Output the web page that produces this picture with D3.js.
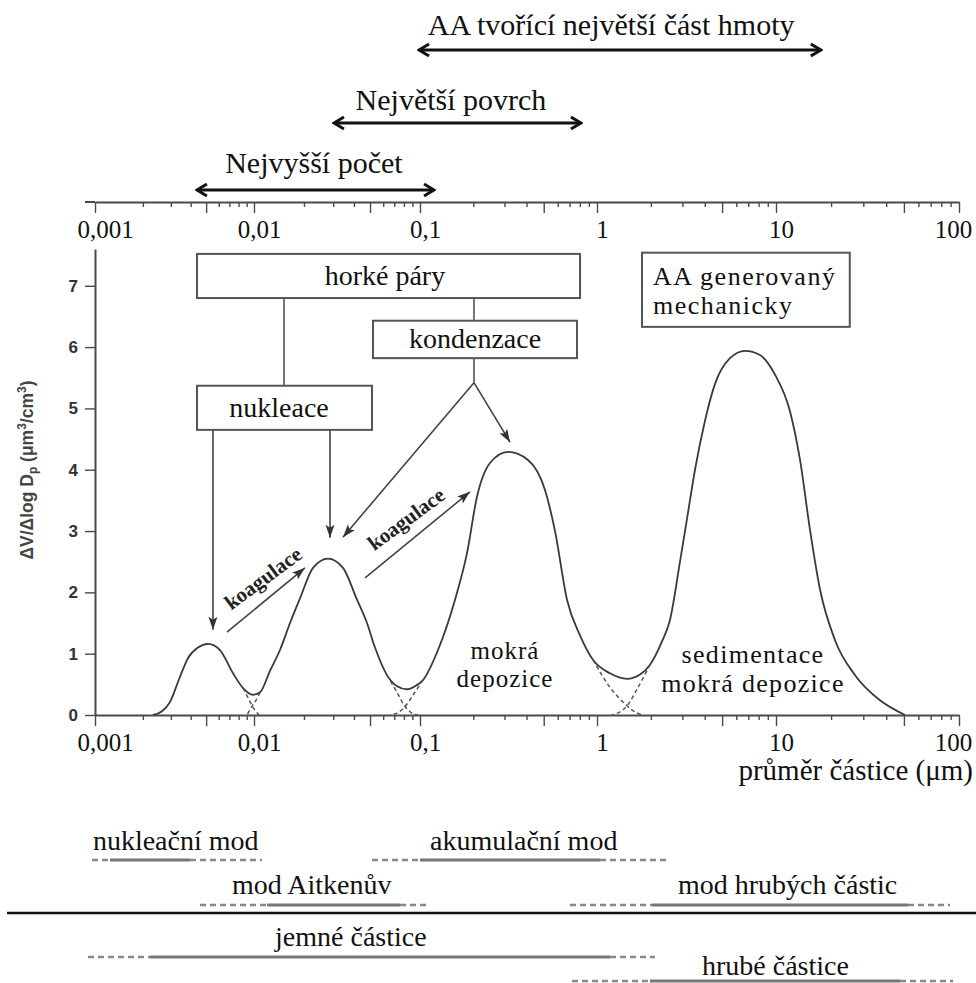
<!DOCTYPE html>
<html>
<head>
<meta charset="utf-8">
<script src="https://cdn.jsdelivr.net/npm/d3@7"></script>
<style>
  html, body { margin: 0; padding: 0; background: #fff; }
  svg { display: block; }
</style>
</head>
<body>
<svg id="chart" width="976" height="983"></svg>
<script>
// ---- Volume size distribution ΔV/Δlog Dp along the upper envelope ----
const diameters = [0.00232, 0.00264, 0.00296, 0.00342, 0.00385, 0.00444, 0.00514, 0.00611, 0.00738, 0.00853,
  0.00986, 0.01087, 0.01248, 0.01434, 0.01648, 0.01892, 0.02267, 0.02791, 0.03437, 0.04174,
  0.04794, 0.05357, 0.06326, 0.07267, 0.08349, 0.09331, 0.104, 0.1264, 0.1577, 0.1843,
  0.2099, 0.2486, 0.3142, 0.4075, 0.5084, 0.5791, 0.6769, 0.8017, 0.9493, 1.182,
  1.471, 1.739, 1.978, 2.307, 2.557, 2.909, 3.224, 3.528, 4.012, 4.563,
  5.534, 6.712, 8.141, 9.872, 11.93, 13.53, 15.34, 17.39, 21.01, 27.03,
  37.01, 50.69];
const volume = [0, 0.06, 0.21, 0.62, 0.93, 1.10, 1.16, 1.06, 0.68, 0.44,
  0.33, 0.37, 0.72, 1.06, 1.50, 1.90, 2.40, 2.55, 2.40, 1.88,
  1.50, 1.10, 0.65, 0.47, 0.42, 0.47, 0.57, 1.06, 1.88, 2.64,
  3.56, 4.11, 4.29, 4.16, 3.67, 3.00, 1.88, 1.30, 0.90, 0.68,
  0.59, 0.66, 0.82, 1.20, 1.55, 2.50, 3.30, 4.00, 4.80, 5.40,
  5.82, 5.94, 5.87, 5.55, 4.95, 4.16, 3.02, 2.05, 1.22, 0.65,
  0.24, 0];

// ---- Hidden tails of the overlapping modes (dashed) ----
const tailNucleationD = [0.00853, 0.0093, 0.01, 0.01072];
const tailNucleationV = [0.44, 0.25, 0.10, 0];
const tailAitkenStartD = [0.01087, 0.01028, 0.00971, 0.009036];
const tailAitkenStartV = [0.37, 0.24, 0.14, 0];
const tailAitkenEndD = [0.06326, 0.07267, 0.08123, 0.09074, 0.09728];
const tailAitkenEndV = [0.65, 0.37, 0.14, 0.02, 0];
const tailAccumStartD = [0.104, 0.09203, 0.08123, 0.07267, 0.06597];
const tailAccumStartV = [0.57, 0.35, 0.14, 0.03, 0];
const tailAccumEndD = [0.9493, 1.182, 1.471, 1.6304, 1.784];
const tailAccumEndV = [0.90, 0.45, 0.15, 0.05, 0];
const tailCoarseStartD = [1.978, 1.6947, 1.471, 1.3444, 1.213];
const tailCoarseStartV = [0.82, 0.45, 0.15, 0.05, 0];

// ---- Axes ----
const decadeTicks = [0.001, 0.01, 0.1, 1, 10, 100];
const decadeLabels = ["0,001", "0,01", "0,1", "1", "10", "100"];
const valueTicks = [0, 1, 2, 3, 4, 5, 6, 7];

// ---- Size ranges shown above the chart (µm) ----
const rangeLabels = ["AA tvořící největší část hmoty", "Největší povrch", "Nejvyšší počet"];
const rangeFrom = [0.0973, 0.0299, 0.00431];
const rangeTo = [17.8, 0.822, 0.1216];
const rangeLabelAt = [1.2, 0.1496, 0.02296];

// ---- Modes and fractions below the chart (µm): dashed – solid – dashed ----
const modeNames = ["nukleační mod", "akumulační mod", "mod Aitkenův", "mod hrubých částic", "jemné částice", "hrubé částice"];
const modeDashStart = [0.000957, 0.0514, 0.004575, 0.7036, 0.000904, 0.7225];
const modeSolidStart = [0.001243, 0.1, 0.01198, 2.029, 0.00222, 1.978];
const modeSolidEnd = [0.003958, 1.039, 0.0758, 52.63, 1.182, 47.6];
const modeDashEnd = [0.01117, 2.557, 0.111, 89.3, 2.109, 92.7];
const modeLabelAt = [0.00097, 0.1139, 0.00728, 2.835, 0.0134, 3.86];

// ---------------------------------------------------------------
const svg = d3.select("#chart");
const serif = "'Liberation Serif', 'Times New Roman', serif";
const sans = "'Liberation Sans', Arial, sans-serif";
const ink = "#111";
const lineGrey = "#4a4a4a";

const x = d3.scaleLog()
  .domain(decadeTicks)
  .range([95, 254, 420, 597, 776, 959]);
const y = d3.scaleLinear().domain([0, 7.6]).range([715, 249]);

const minorTicks = [];
decadeTicks.slice(0, -1).forEach(d => { for (let k = 2; k <= 9; k++) minorTicks.push(+(d * k).toPrecision(3)); });
const fiveTicks = minorTicks.filter(t => Math.abs(t / Math.pow(10, Math.floor(Math.log10(t) + 1e-9)) - 5) < 1e-6);
const smallTicks = minorTicks.filter(t => !fiveTicks.includes(t));

// markers
const defs = svg.append("defs");
defs.append("marker").attr("id", "chev").attr("viewBox", "-12 -8 14 16")
  .attr("refX", 0).attr("refY", 0).attr("markerWidth", 14).attr("markerHeight", 16)
  .attr("markerUnits", "userSpaceOnUse").attr("orient", "auto-start-reverse")
  .append("path").attr("d", "M-10,-6 L0,0 L-10,6").attr("fill", "none")
  .attr("stroke", ink).attr("stroke-width", 3).attr("stroke-linejoin", "miter");
defs.append("marker").attr("id", "tri").attr("viewBox", "-14 -5 15 10")
  .attr("refX", 0).attr("refY", 0).attr("markerWidth", 15).attr("markerHeight", 10)
  .attr("markerUnits", "userSpaceOnUse").attr("orient", "auto")
  .append("path").attr("d", "M-13,-4.5 L0,0 L-13,4.5 L-10,0 Z").attr("fill", "#333");

// x axes (top and bottom share the same scale)
function drawXAxis(yPos) {
  const g = svg.append("g").attr("transform", `translate(0,${yPos})`);
  g.append("g").call(d3.axisBottom(x).tickValues(smallTicks).tickFormat(() => "").tickSize(5).tickSizeOuter(0))
    .call(s => s.select(".domain").remove());
  g.append("g").call(d3.axisBottom(x).tickValues(fiveTicks).tickFormat(() => "").tickSize(11).tickSizeOuter(0))
    .call(s => s.select(".domain").remove());
  const major = g.append("g").call(d3.axisBottom(x).tickValues(decadeTicks)
    .tickFormat((d, i) => decadeLabels[i]).tickSize(11).tickPadding(7).tickSizeOuter(0));
  g.selectAll("line").attr("stroke", lineGrey).attr("stroke-width", 1.4);
  major.select(".domain").attr("stroke", lineGrey).attr("stroke-width", 2);
  major.selectAll("text").attr("font-family", serif).attr("font-size", 25).attr("fill", ink)
    .attr("dx", (d, i) => i === 0 ? 10 : (i === decadeTicks.length - 1 ? -6 : 5));
  return g;
}
drawXAxis(202);
drawXAxis(715);
// the top scale line runs a little past the first decade
svg.append("line").attr("x1", 85).attr("x2", 95).attr("y1", 202).attr("y2", 202)
  .attr("stroke", lineGrey).attr("stroke-width", 2);

// y axis
const yAxis = svg.append("g").attr("transform", "translate(95,0)")
  .call(d3.axisLeft(y).tickValues(valueTicks).tickSize(10).tickPadding(7).tickSizeOuter(0));
yAxis.select(".domain").attr("stroke", lineGrey).attr("stroke-width", 2);
yAxis.selectAll("line").attr("stroke", lineGrey).attr("stroke-width", 1.4);
yAxis.selectAll("text").attr("font-family", sans).attr("font-weight", "bold")
  .attr("font-size", 17).attr("fill", "#333");

// y axis title
const yTitle = svg.append("text").attr("transform", "translate(33,470) rotate(-90)")
  .attr("text-anchor", "middle").attr("font-family", sans).attr("font-weight", "bold")
  .attr("font-size", 17.5).attr("fill", "#444");
yTitle.append("tspan").text("ΔV/Δlog D");
yTitle.append("tspan").text("p").attr("font-size", 12).attr("dy", 4);
yTitle.append("tspan").text(" (μm").attr("dy", -4);
yTitle.append("tspan").text("3").attr("font-size", 12).attr("dy", -7);
yTitle.append("tspan").text("/cm").attr("dy", 7);
yTitle.append("tspan").text("3").attr("font-size", 12).attr("dy", -7);
yTitle.append("tspan").text(")").attr("dy", 7);

// x axis title
svg.append("text").attr("x", 973).attr("y", 780).attr("text-anchor", "end")
  .attr("font-family", serif).attr("font-size", 29).attr("fill", ink)
  .text("průměr částice (μm)");

// distribution curve
const line = d3.line().x(d => x(d[0])).y(d => y(d[1])).curve(d3.curveMonotoneX);
const curve = diameters.map((d, i) => [d, volume[i]]);
svg.append("path").datum(curve).attr("d", line)
  .attr("fill", "none").attr("stroke", "#3a3a3a").attr("stroke-width", 1.8);

const tailLine = d3.line().x(d => x(d[0])).y(d => y(d[1])).curve(d3.curveCatmullRom);
[[tailNucleationD, tailNucleationV], [tailAitkenStartD, tailAitkenStartV],
 [tailAitkenEndD, tailAitkenEndV], [tailAccumStartD, tailAccumStartV],
 [tailAccumEndD, tailAccumEndV], [tailCoarseStartD, tailCoarseStartV]].forEach(([ds, vs]) => {
  svg.append("path").datum(ds.map((d, i) => [d, vs[i]])).attr("d", tailLine)
    .attr("fill", "none").attr("stroke", "#555").attr("stroke-width", 1.5)
    .attr("stroke-dasharray", "4,3");
});

// size ranges with double arrows
const rangeArrowY = [50, 123, 190];
const rangeTextY = [35, 110, 173];
rangeLabels.forEach((lab, i) => {
  svg.append("line").attr("x1", x(rangeFrom[i]) + 1).attr("x2", x(rangeTo[i]) - 1)
    .attr("y1", rangeArrowY[i]).attr("y2", rangeArrowY[i])
    .attr("stroke", ink).attr("stroke-width", 3)
    .attr("marker-start", "url(#chev)").attr("marker-end", "url(#chev)");
  svg.append("text").attr("x", x(rangeLabelAt[i])).attr("y", rangeTextY[i])
    .attr("text-anchor", "middle").attr("font-family", serif).attr("font-size", 30)
    .attr("fill", ink).text(lab);
});

// multi-line label helper: one text element, one tspan per line
function multiLine(px, py, lines, gap, size, anchor, spacing) {
  const t = svg.append("text").attr("x", px).attr("y", py).attr("text-anchor", anchor)
    .attr("font-family", serif).attr("font-size", size).attr("fill", ink)
    .attr("letter-spacing", spacing || 0);
  lines.forEach((s, i) => t.append("tspan").attr("x", px).attr("dy", i === 0 ? 0 : gap).text(s));
  return t;
}

// process boxes (data coordinates: diameter, value)
const boxes = [
  { lines: ["horké páry"], x0: 0.00438, x1: 0.802, v0: 6.80, v1: 7.52, tx: 0.0615, tv: 7.01, anchor: "middle", size: 28, ls: 0 },
  { lines: ["kondenzace"], x0: 0.0521, x1: 0.771, v0: 5.82, v1: 6.43, tx: 0.2046, tv: 5.99, anchor: "middle", size: 28, ls: 0 },
  { lines: ["nukleace"], x0: 0.00438, x1: 0.0514, v0: 4.65, v1: 5.37, tx: 0.01415, tv: 4.86, anchor: "middle", size: 28, ls: 0 },
  { lines: ["AA generovaný", "mechanicky"], x0: 1.784, x1: 25.3, v0: 6.33, v1: 7.54, tx: 2.055, tv: 7.02, anchor: "start", size: 26, ls: 1.5 }
];
boxes.forEach(b => {
  svg.append("rect").attr("x", x(b.x0)).attr("y", y(b.v1))
    .attr("width", x(b.x1) - x(b.x0)).attr("height", y(b.v0) - y(b.v1))
    .attr("fill", "#fff").attr("stroke", "#555").attr("stroke-width", 2);
  multiLine(x(b.tx), y(b.tv), b.lines, 29, b.size, b.anchor, b.ls);
});

// connectors and arrows
const connectors = [
  [[0.01517, 6.80], [0.01517, 5.37]],
  [[0.2018, 6.80], [0.2018, 6.43]],
  [[0.2018, 5.82], [0.2018, 5.42]]
];
connectors.forEach(([a, b]) => {
  svg.append("line").attr("x1", x(a[0])).attr("y1", y(a[1])).attr("x2", x(b[0])).attr("y2", y(b[1]))
    .attr("stroke", "#555").attr("stroke-width", 1.6);
});
const arrows = [
  [[0.2018, 5.42], [0.3225, 4.45]],
  [[0.2018, 5.42], [0.03435, 2.90]],
  [[0.00552, 4.65], [0.00552, 1.39]],
  [[0.0287, 4.65], [0.0287, 2.89]],
  [[0.00676, 1.35], [0.02028, 2.40]],
  [[0.04667, 2.235], [0.1916, 3.64]]
];
arrows.forEach(([a, b]) => {
  svg.append("line").attr("x1", x(a[0])).attr("y1", y(a[1])).attr("x2", x(b[0])).attr("y2", y(b[1]))
    .attr("stroke", "#444").attr("stroke-width", 1.6).attr("marker-end", "url(#tri)");
});

// coagulation labels follow their arrows
const coagAt = [[0.01132, 2.235, 4], [0.0824, 3.20, 5]];
coagAt.forEach(([d, v, ai]) => {
  const [a, b] = arrows[ai];
  const ang = Math.atan2(y(b[1]) - y(a[1]), x(b[0]) - x(a[0])) * 180 / Math.PI;
  svg.append("text").attr("transform", `translate(${x(d)},${y(v)}) rotate(${ang + 3})`)
    .attr("text-anchor", "middle").attr("dy", "0.35em")
    .attr("font-family", serif).attr("font-weight", "bold").attr("font-size", 21)
    .attr("fill", "#222").text("koagulace");
});

// removal process labels
multiLine(x(0.302), y(0.91), ["mokrá", "depozice"], 28, 25, "middle", 1);
multiLine(x(7.44), y(0.85), ["sedimentace", "mokrá depozice"], 29, 26, "middle", 1.3);

// modes and fractions
const rowText = [850, 850, 894, 894, 946, 975];
const rowLine = [860, 860, 905, 905, 957, 981];
modeNames.forEach((name, i) => {
  svg.append("text").attr("x", x(modeLabelAt[i])).attr("y", rowText[i])
    .attr("font-family", serif).attr("font-size", 28).attr("fill", ink).text(name);
  svg.append("line").attr("x1", x(modeDashStart[i])).attr("x2", x(modeSolidStart[i]))
    .attr("y1", rowLine[i]).attr("y2", rowLine[i])
    .attr("stroke", "#888").attr("stroke-width", 2.5).attr("stroke-dasharray", "6,4");
  svg.append("line").attr("x1", x(modeSolidStart[i])).attr("x2", x(modeSolidEnd[i]))
    .attr("y1", rowLine[i]).attr("y2", rowLine[i])
    .attr("stroke", "#777").attr("stroke-width", 3);
  svg.append("line").attr("x1", x(modeSolidEnd[i])).attr("x2", x(modeDashEnd[i]))
    .attr("y1", rowLine[i]).attr("y2", rowLine[i])
    .attr("stroke", "#888").attr("stroke-width", 2.5).attr("stroke-dasharray", "6,4");
});

// separator between modes and size fractions
svg.append("line").attr("x1", 7).attr("x2", 976).attr("y1", 913).attr("y2", 913)
  .attr("stroke", "#111").attr("stroke-width", 2.5);
</script>
</body>
</html>
